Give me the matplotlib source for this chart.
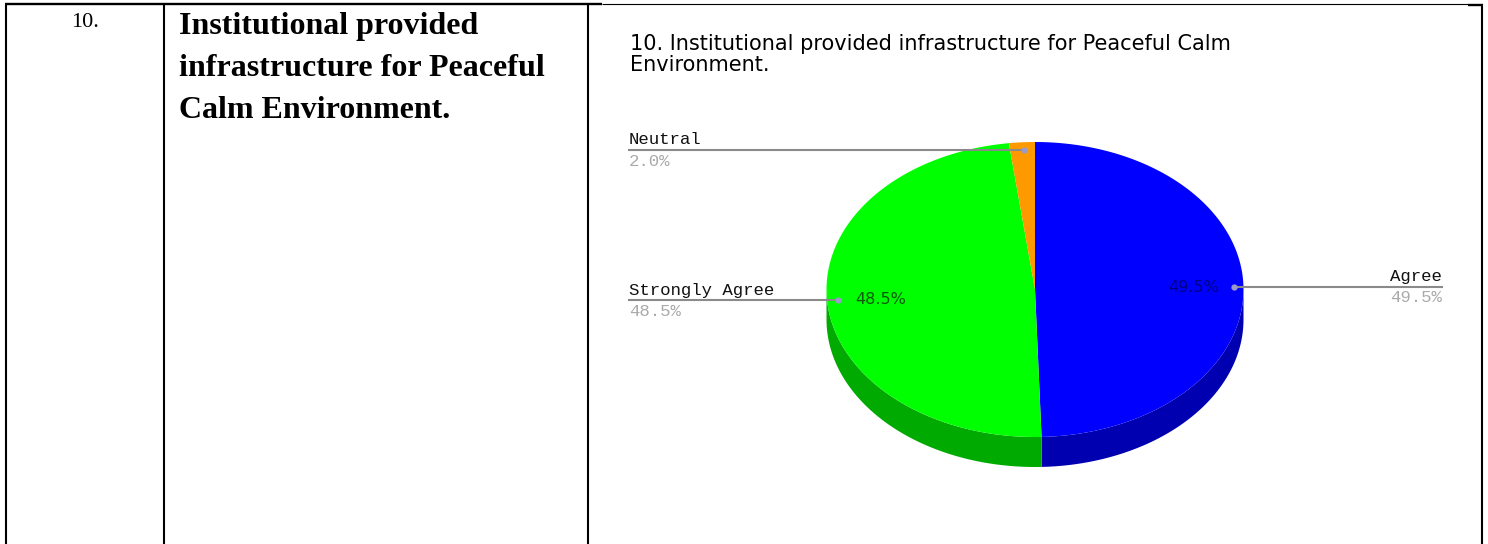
import numpy as np
import matplotlib
matplotlib.use('Agg')
import matplotlib.pyplot as plt

# data
labels = ['Agree', 'Strongly Agree', 'Neutral']
values = [49.5, 48.5, 2.0]
top_colors = ['#0000ff', '#00ff00', '#ff9900']
side_colors = ['#0000b0', '#00aa00', '#b06a00']
row_number = '10.'
row_text = ['Institutional provided', 'infrastructure for Peaceful', 'Calm Environment.']
title_lines = ['10. Institutional provided infrastructure for Peaceful Calm', 'Environment.']

# pie geometry in pixels
cx, cy = 1035, 289.5
a, b = 208.5, 147.5
depth = 30

fig = plt.figure(figsize=(14.88, 5.44), dpi=100)
ax = fig.add_axes([0, 0, 1, 1])
ax.set_xlim(0, 1488)
ax.set_ylim(544, 0)
ax.axis('off')


def rim(t0, t1, n=200):
    # angles are clockwise from the top of the pie
    t = np.radians(np.linspace(t0, t1, n))
    return cx + a * np.sin(t), cy - b * np.cos(t)


# table lines
ax.plot([5, 602], [4, 4], color='black', lw=1.7, solid_capstyle='butt')
ax.plot([602, 1468], [4, 4], color='black', lw=0.8, solid_capstyle='butt')
ax.plot([1468, 1483], [4.5, 4.5], color='black', lw=1.7, solid_capstyle='butt')
for x in [6, 164, 588, 1482]:
    ax.plot([x, x], [4, 544], color='black', lw=1.5, solid_capstyle='butt')

ax.text(85, 27, row_number, family='Liberation Serif', fontsize=16, ha='center', va='baseline')
for y, line in zip([34, 76, 118], row_text):
    ax.text(179, y, line, family='Liberation Serif', fontsize=23, weight='bold', va='baseline')

for y, line in zip([50, 71], title_lines):
    ax.text(630, y, line, family='DejaVu Sans', fontsize=15, va='baseline', color='black')

# slices
angles = np.concatenate([[0], np.cumsum(values) / np.sum(values) * 360])
for i in range(len(values)):
    t0, t1 = angles[i], angles[i + 1]
    lo, hi = max(t0, 90), min(t1, 270)
    if lo < hi:
        x, y = rim(lo, hi)
        ax.fill(np.r_[x, x[::-1]], np.r_[y, y[::-1] + depth], color=side_colors[i], lw=0)
    x, y = rim(t0, t1)
    ax.fill(np.r_[cx, x], np.r_[cy, y], color=top_colors[i], lw=0)

# callouts
line_color = '#8a8a8a'
ax.plot([629, 1024], [150, 150], color=line_color, lw=1.5)
ax.plot([629, 838], [300, 300], color=line_color, lw=1.5)
ax.plot([1234, 1442], [287, 287], color=line_color, lw=1.5)
ax.plot([1024, 838, 1234], [150, 300, 287], ls='none', marker='o', ms=3.5, color='#9a9ac8')

mono = dict(family='Liberation Mono', fontsize=12.5, va='center')
ax.text(629, 140, labels[2], color='#111111', **mono)
ax.text(629, 162, '%.1f%%' % values[2], color='#aaaaaa', **mono)
ax.text(629, 290, labels[1], color='#111111', **mono)
ax.text(629, 311, '%.1f%%' % values[1], color='#aaaaaa', **mono)
ax.text(1442, 277, labels[0], color='#111111', ha='right', **mono)
ax.text(1442, 298, '%.1f%%' % values[0], color='#aaaaaa', ha='right', **mono)

ax.text(881, 299, '%.1f%%' % values[1], family='DejaVu Sans', fontsize=11.5, ha='center', va='center', color='#0a5a0a')
ax.text(1194, 287, '%.1f%%' % values[0], family='DejaVu Sans', fontsize=11.5, ha='center', va='center', color='#000080')

fig.savefig('out.png', dpi=100)
